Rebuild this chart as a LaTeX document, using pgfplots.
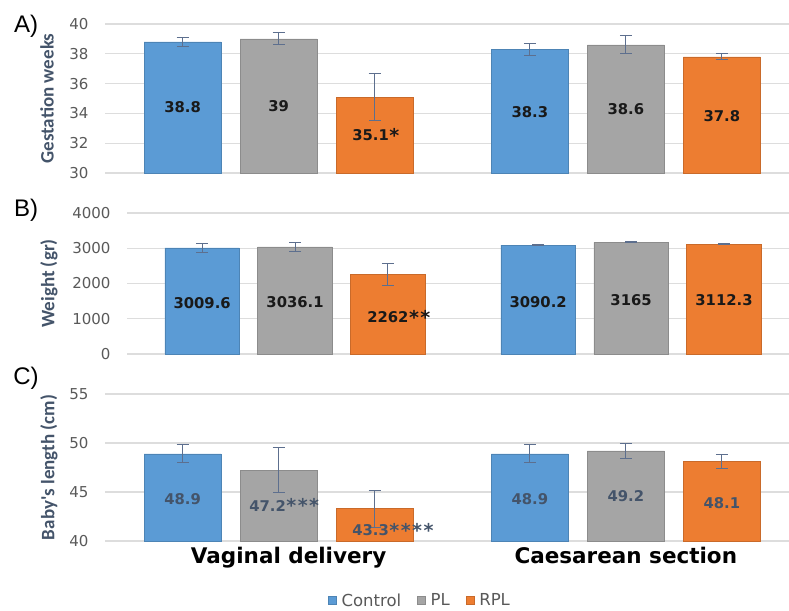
\documentclass[border=0pt]{standalone}
\usepackage{fontspec}
\usepackage{pgfplots}
\pgfplotsset{compat=1.18}
\setmainfont{Carlito}
\newfontfamily\dejavu{DejaVu Sans}
\newfontfamily\carlito{Carlito}
\newfontfamily\libsans{Liberation Sans}
\definecolor{cblue}{HTML}{5B9BD5}
\definecolor{cgray}{HTML}{A5A5A5}
\definecolor{corange}{HTML}{ED7D31}
\definecolor{errc}{HTML}{5D6F8E}
\definecolor{gridc}{HTML}{DDDDDD}
\definecolor{tickc}{HTML}{595959}
\definecolor{labc}{HTML}{44546A}
\newcommand\stars[1]{\rlap{\raisebox{-1.5pt}{\fontsize{19}{19}\selectfont\kern0.5pt#1}}}
\pgfplotsset{
 panel/.style={
  scale only axis, xmin=-0.5, xmax=1.47,
  axis line style={draw=none}, major tick length=0pt,
  ymajorgrids, grid style={gridc, line width=1.2pt},
  xtick=\empty,
  ybar, bar shift=0pt, bar width=0.222,
  /pgf/number format/assume math mode=true,
  /pgf/number format/1000 sep={},
  yticklabel style={font=\dejavu\fontsize{15}{15}\selectfont, text=tickc, xshift=-13pt},
  ylabel style={font=\carlito\bfseries\fontsize{19}{20}\selectfont, text=labc, anchor=center},
  error bars/y dir=both, error bars/y explicit,
  error bars/error bar style={errc, line width=1pt},
  error bars/error mark options={errc, line width=1pt, mark size=6pt, rotate=90},
 },
 s1/.style={fill=cblue, draw=cblue!85!black, line width=0.5pt},
 s2/.style={fill=cgray, draw=cgray!85!black, line width=0.5pt},
 s3/.style={fill=corange, draw=corange!85!black, line width=0.5pt},
}
\tikzset{
 vlab/.style={font=\dejavu\bfseries\fontsize{14.8}{15}\selectfont, text=black!90, anchor=center},
 vlabc/.style={font=\dejavu\bfseries\fontsize{14.8}{15}\selectfont, text=labc, anchor=center},
}
\begin{document}
\begin{tikzpicture}
\useasboundingbox (0,0) rectangle (789pt,-610pt);
% Panel A
\begin{axis}[panel, width=684pt, at={(105pt,-173pt)}, anchor=south west, height=149pt,
  ymin=30, ymax=40, ytick={30,32,...,40}, ylabel={Gestation weeks},
  ylabel style={at={(axis description cs:-0.0848,0.5)}}]
\addplot[s1] coordinates {(-0.2765,38.8) +- (0,0.3) (0.7235,38.3) +- (0,0.4)};
\addplot[s2] coordinates {(0,39) +- (0,0.4) (1,38.6) +- (0,0.6)};
\addplot[s3] coordinates {(0.2765,35.1) +- (0,1.6) (1.2765,37.8) +- (0,0.2)};
\node[vlab] at (axis cs:-0.2765,34.4) {38.8};
\node[vlab] at (axis cs:0,34.5) {39};
\node[vlab, xshift=-4pt] at (axis cs:0.2765,32.55) {35.1\stars{*}};
\node[vlab] at (axis cs:0.7235,34.1) {38.3};
\node[vlab] at (axis cs:1,34.3) {38.6};
\node[vlab] at (axis cs:1.2765,33.85) {37.8};
\end{axis}
% Panel B
\begin{axis}[panel, width=662pt, at={(127pt,-354pt)}, anchor=south west, height=141pt,
  ymin=0, ymax=4000, ytick={0,1000,...,4000}, ylabel={Weight (gr)},
  ylabel style={at={(axis description cs:-0.118,0.5)}}]
\addplot[s1] coordinates {(-0.2765,3009.6) +- (0,125) (0.7235,3090.2) +- (0,15)};
\addplot[s2] coordinates {(0,3036.1) +- (0,140) (1,3165) +- (0,15)};
\addplot[s3] coordinates {(0.2765,2262) +- (0,310) (1.2765,3112.3) +- (0,15)};
\node[vlab] at (axis cs:-0.2765,1450) {3009.6};
\node[vlab] at (axis cs:0,1480) {3036.1};
\node[vlab] at (axis cs:0.2765,1050) {2262\stars{*\kern1.5pt*}};
\node[vlab] at (axis cs:0.7235,1480) {3090.2};
\node[vlab] at (axis cs:1,1520) {3165};
\node[vlab] at (axis cs:1.2765,1520) {3112.3};
\end{axis}
% Panel C
\begin{axis}[panel, width=684pt, at={(105pt,-541pt)}, anchor=south west, height=147pt,
  ymin=40, ymax=55, ytick={40,45,...,55}, ylabel={Baby's length (cm)},
  ylabel style={at={(axis description cs:-0.082,0.5)}},
  xtick={0,1}, xticklabels={\kern20pt Vaginal delivery,Caesarean section},
  xticklabel style={font=\dejavu\bfseries\fontsize{21.5}{22}\selectfont, text=black, yshift=-3pt},
  legend style={at={(axis description cs:0.4605,-0.405)}, anchor=center, draw=none,
    legend columns=3, font=\dejavu\fontsize{16.5}{17}\selectfont, text=tickc,
    /tikz/every even column/.append style={column sep=14pt},
    /tikz/every odd column/.append style={column sep=3pt}},
  legend image code/.code={\fill[#1] (0pt,-4pt) rectangle (8pt,4pt);}]
\addplot[s1] coordinates {(-0.2765,48.9) +- (0,0.9) (0.7235,48.9) +- (0,0.9)};
\addplot[s2] coordinates {(0,47.2) +- (0,2.3) (1,49.2) +- (0,0.8)};
\addplot[s3] coordinates {(0.2765,43.3) +- (0,1.9) (1.2765,48.1) +- (0,0.7)};
\legend{Control,PL,RPL}
\node[vlabc] at (axis cs:-0.2765,44.3) {48.9};
\node[vlabc, xshift=-11pt] at (axis cs:0,43.6) {47.2\stars{*\kern1.5pt*\kern1.5pt*}};
\node[vlabc, xshift=-4pt] at (axis cs:0.2765,41.1) {43.3\stars{*\kern1.5pt*\kern1.5pt*\kern1.5pt*}};
\node[vlabc] at (axis cs:0.7235,44.3) {48.9};
\node[vlabc] at (axis cs:1,44.6) {49.2};
\node[vlabc] at (axis cs:1.2765,43.9) {48.1};
\end{axis}
\node[font=\libsans\fontsize{24}{24}\selectfont, anchor=center] at (26pt,-26pt) {A)};
\node[font=\libsans\fontsize{24}{24}\selectfont, anchor=center] at (26pt,-210pt) {B)};
\node[font=\libsans\fontsize{24}{24}\selectfont, anchor=center] at (26pt,-378pt) {C)};
\end{tikzpicture}
\end{document}
